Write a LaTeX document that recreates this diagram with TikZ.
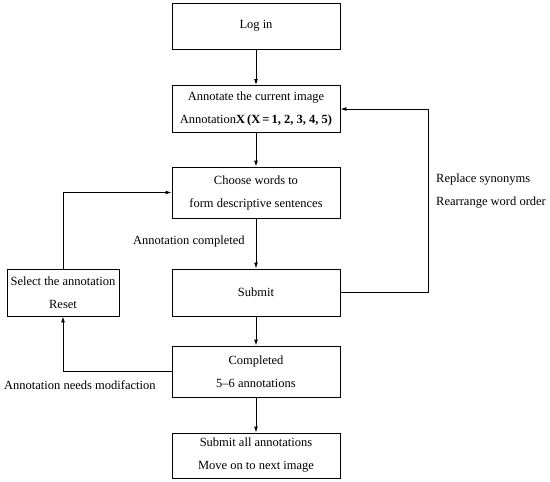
\documentclass[tikz,border=0pt]{standalone}
\usepackage{fontspec}
\setmainfont{Liberation Serif}
\usetikzlibrary{arrows.meta,positioning}

\begin{document}
\begin{tikzpicture}[
  x=1pt, y=-1pt,
  >={Latex[length=6pt,width=4pt]},
  txt/.style={font=\fontsize{12.5}{23}\selectfont},
  box/.style={draw, line width=0.9pt, minimum width=168pt, align=center, txt},
  every node/.style={txt}
]
\useasboundingbox (0,0) rectangle (550,482);

% Main column
\node[box, minimum height=46pt] (login) at (256,26) {Log in};
\node[box, minimum height=47pt] (annot) at (256,109)
  {Annotate the current image\\Annotation\textbf{X\,(X\,=\,1, 2, 3, 4, 5)}};
\node[box, minimum height=51pt] (choose) at (256,192.5)
  {Choose words to\\form descriptive sentences};
\node[box, minimum height=47pt] (submit) at (256,292.5) {Submit};
\node[box, minimum height=51pt] (done) at (256,371.5)
  {Completed\\5--6 annotations};
\node[box, minimum height=45pt] (final) at (256,455.5)
  {Submit all annotations\\Move on to next image};

% Side box on the left
\node[draw, line width=0.9pt, minimum width=112pt, minimum height=47pt, align=center]
  (select) at (63,292.5) {Select the annotation\\Reset};

% Labels
\node[anchor=west, inner sep=0pt] (lblok) at (133,241) {Annotation completed};
\node[anchor=west, inner sep=0pt] (lblmod) at (4,385) {Annotation needs modifaction};
\node[anchor=north west, align=left, inner sep=0pt] (lblre) at (436,174)
  {Replace synonyms\\Rearrange word order};

% Downward arrows
\draw[->, line width=0.9pt] (login) -- (annot);
\draw[->, line width=0.9pt] (annot) -- (choose);
\draw[->, line width=0.9pt] (choose) -- (submit);
\draw[->, line width=0.9pt] (submit) -- (done);
\draw[->, line width=0.9pt] (done) -- (final);

% Loop back through the left box
\draw[->, line width=0.9pt] (done.west) -| (select.south);
\draw[->, line width=0.9pt] (select.north) |- (choose.west);

% Loop back on the right
\draw[->, line width=0.9pt] (submit.east) -- ++(88,0) |- (annot.east);

\end{tikzpicture}
\end{document}
